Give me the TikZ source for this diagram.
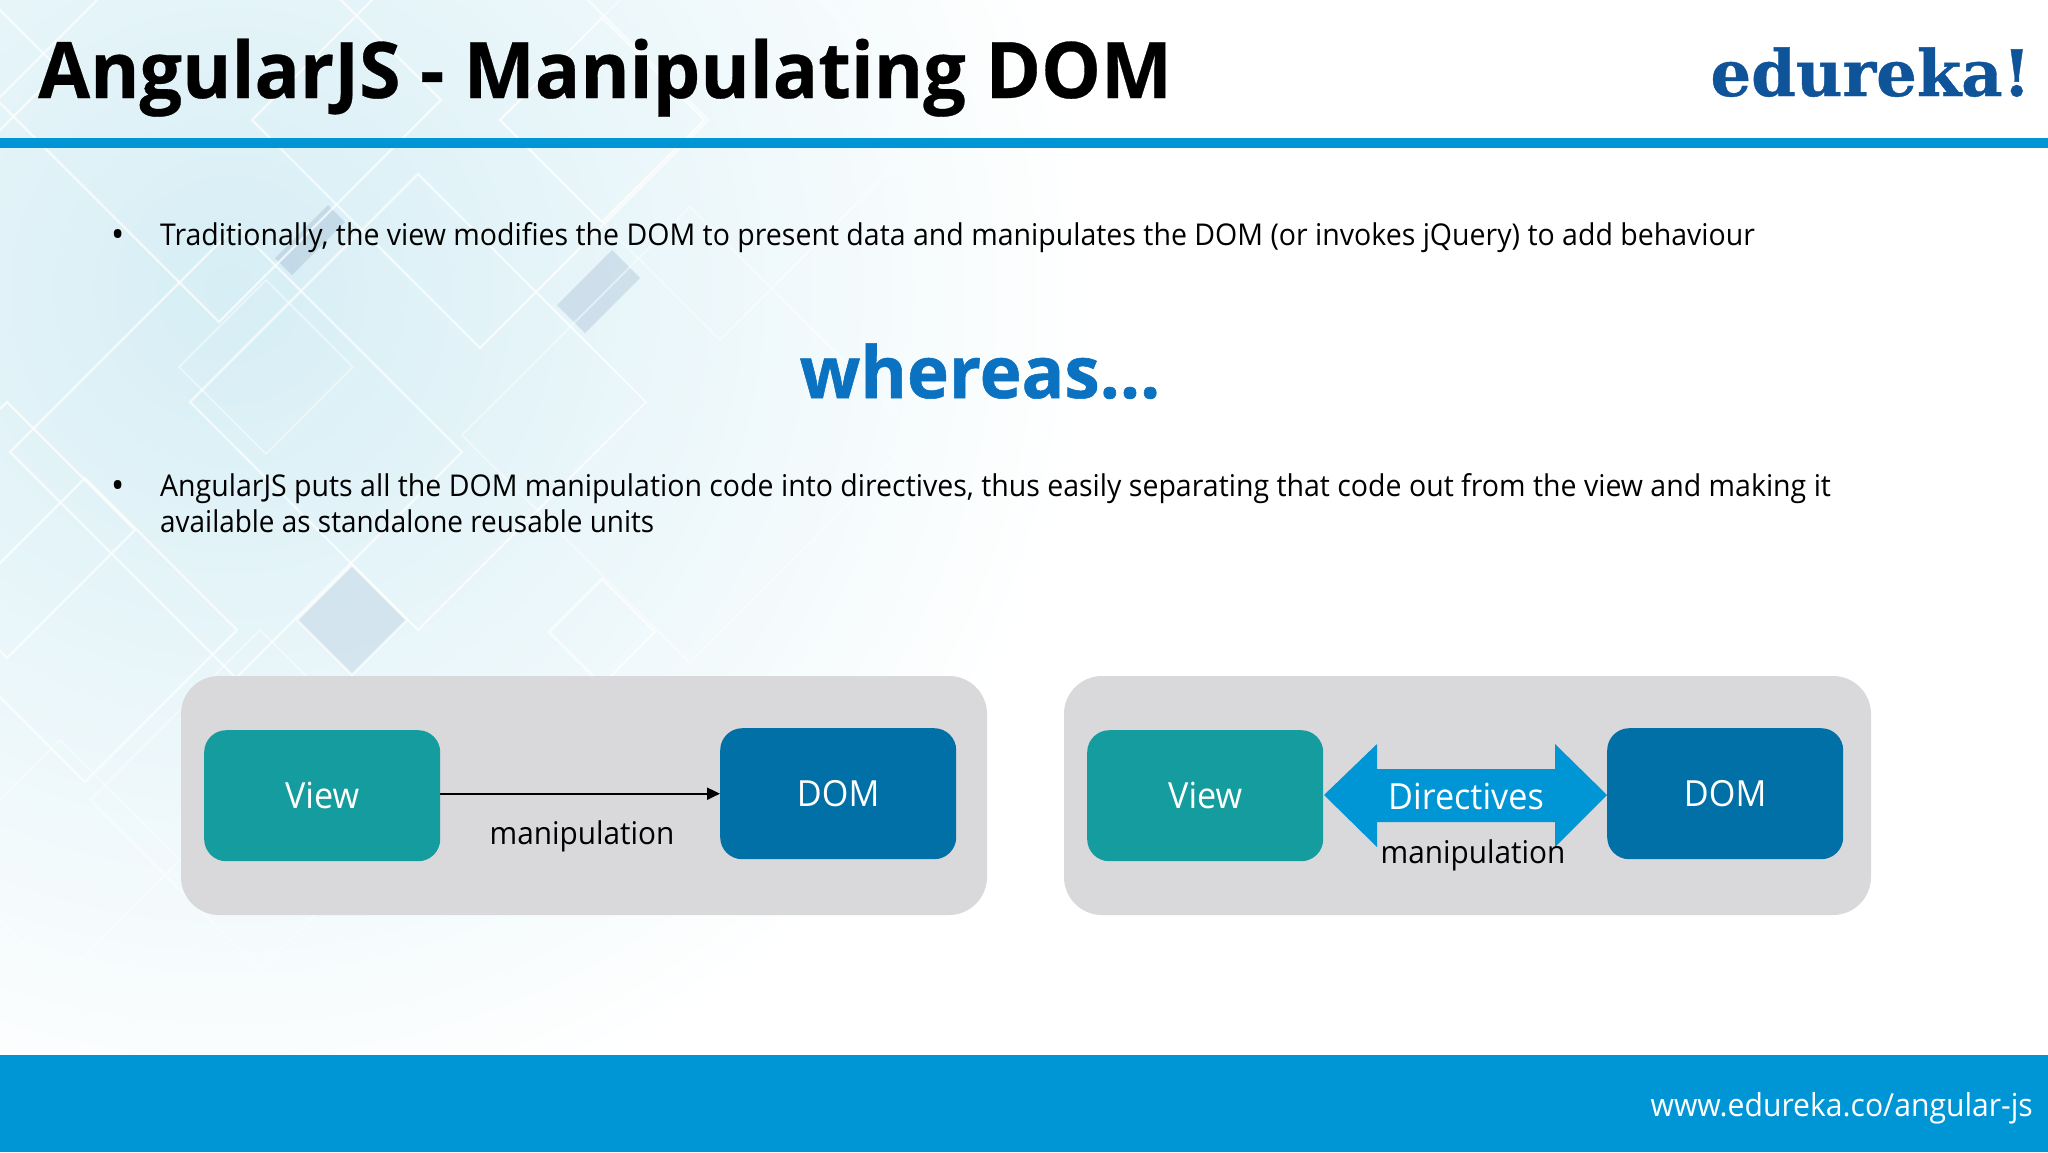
\documentclass[tikz,border=0pt]{standalone}
\usepackage{fontspec}
\usetikzlibrary{arrows.meta,calc}
\setmainfont{Open Sans}
\newfontfamily\bodyf[FakeStretch=0.95]{Open Sans}
\newfontfamily\shortf[FakeStretch=0.93]{Open Sans}
\newfontfamily\titlef[FakeStretch=0.965,BoldFeatures={FakeBold=0.4}]{Open Sans}
\newfontfamily\wherf[FakeStretch=0.985,BoldFeatures={FakeBold=0.8}]{Open Sans}
\newfontfamily\logof[FakeStretch=1.0,BoldFeatures={FakeBold=0.6}]{DejaVu Serif}
\definecolor{barblue}{HTML}{0096D6}
\definecolor{viewteal}{HTML}{159C9E}
\definecolor{domblue}{HTML}{0070A6}
\definecolor{panelgray}{HTML}{D9D9DB}
\definecolor{wherblue}{HTML}{0A72C0}
\definecolor{logoblue}{HTML}{0F5499}
\definecolor{bgcyan}{HTML}{D6EEF5}
\definecolor{patch}{HTML}{A9C0D6}
\tikzset{
  panel/.style={fill=panelgray,rounded corners=38pt},
  viewbox/.style={fill=viewteal,rounded corners=22pt,text=white,font=\bodyf\fontsize{36}{40}\selectfont,inner sep=0pt,anchor=north west,minimum width=236pt,minimum height=131pt},
  dombox/.style={fill=domblue,rounded corners=22pt,text=white,font=\bodyf\fontsize{36}{40}\selectfont,inner sep=0pt,anchor=north west,minimum width=236pt,minimum height=131pt},
  lbl/.style={font=\bodyf\fontsize{31.3}{38}\selectfont,text=black,inner sep=0pt},
  para/.style={font=\bodyf\fontsize{30}{36}\selectfont,text=black,inner sep=0pt,anchor=base west},
  bul/.style={font=\bodyf\fontsize{37}{40}\selectfont,text=black,inner sep=0pt,anchor=base west},
  dia/.style={draw=white,line width=2.2pt,opacity=0.7},
  faint/.style={draw=white,line width=2pt,opacity=0.45},
}
\newcommand{\dmd}[4][dia]{\draw[#1] (#2,#3-#4) -- (#2+#4,#3) -- (#2,#3+#4) -- (#2-#4,#3) -- cycle;}
\begin{document}
\begin{tikzpicture}[x=1pt,y=-1pt]
\useasboundingbox (0,0) rectangle (2048,1152);
\begin{scope}
\clip (0,0) rectangle (2048,1152);
\fill[white] (0,0) rectangle (2048,1152);
\shade[inner color=bgcyan,outer color=white] (230,290) circle (860pt);
% darker patches
\fill[patch,opacity=.45] (328,205) -- (345,222) -- (292,275) -- (275,258) -- cycle;
\fill[patch,opacity=.4] (612,250) -- (640,278) -- (585,333) -- (557,305) -- cycle;
\fill[patch,opacity=.3] (352,565) -- (407,620) -- (352,675) -- (297,620) -- cycle;
\dmd{418}{402}{228}
\dmd{480}{120}{228}
\dmd{236}{452}{226}
\dmd{602}{120}{102}
\dmd{219}{100}{222}
\dmd{85}{630}{152}
\dmd{352}{620}{55}
\dmd{602}{632}{53}
\dmd{7}{530}{128}
\dmd{-10}{70}{70}
\dmd[faint]{266}{367}{87}
\dmd[faint]{720}{120}{220}
\dmd[faint]{690}{435}{228}
\dmd[faint]{260}{800}{170}
\dmd[faint]{60}{860}{120}
\end{scope}
% bars
\fill[barblue] (0,138) rectangle (2048,148);
\fill[barblue] (0,1055) rectangle (2048,1152);
% title
\node[anchor=base west,inner sep=0pt,font=\titlef\bfseries\fontsize{78}{80}\selectfont] (title) at (38,98) {AngularJS - Manipulating DOM};
\node[anchor=base east,inner sep=0pt,text=logoblue,font=\logof\bfseries\fontsize{64}{70}\selectfont] (logo) at (2031,96) {edureka!};
% body
\node[bul] (b1) at (111,247) {•};
\node[para] (t1) at (160,245) {Traditionally, the view modifies the DOM to present data and manipulates the DOM (or invokes jQuery) to add behaviour};
\node[anchor=base,inner sep=0pt,text=wherblue,font=\wherf\bfseries\fontsize{72}{72}\selectfont] (wh) at (980,398) {whereas\ldots};
\node[bul] (b2) at (111,498) {•};
\node[para] (t2) at (160,496) {AngularJS puts all the DOM manipulation code into directives, thus easily separating that code out from the view and making it};
\node[para,font=\shortf\fontsize{30}{36}\selectfont] (t3) at (160,532) {available as standalone reusable units};
% left panel
\fill[panel] (181,676) rectangle (987,915);
\node[viewbox] (v1) at (204,730) {View};
\node[dombox] (d1) at (720,728) {DOM};
\draw[-{Triangle[length=13pt,width=12pt]},line width=2pt,black] (v1.east |- d1.west) -- (d1.west);
\node[lbl] (m1) at (582,836) {manipulation};
% right panel
\fill[panel] (1064,676) rectangle (1871,915);
\node[viewbox] (v2) at (1087,730) {View};
\node[dombox] (d2) at (1607,728) {DOM};
\fill[barblue] (1324,795) -- (1377,744) -- (1377,769) -- (1555,769) -- (1555,744) -- (1607,795) -- (1555,847) -- (1555,822) -- (1377,822) -- (1377,847) -- cycle;
\node[inner sep=0pt,text=white,font=\bodyf\fontsize{36}{40}\selectfont] (dir) at (1466,796) {Directives};
\node[lbl] (m2) at (1473,855) {manipulation};
% footer
\node[anchor=base east,inner sep=0pt,text=white,font=\bodyf\fontsize{31.7}{38}\selectfont] (url) at (2033,1116) {www.edureka.co/angular-js};
\end{tikzpicture}
\end{document}
